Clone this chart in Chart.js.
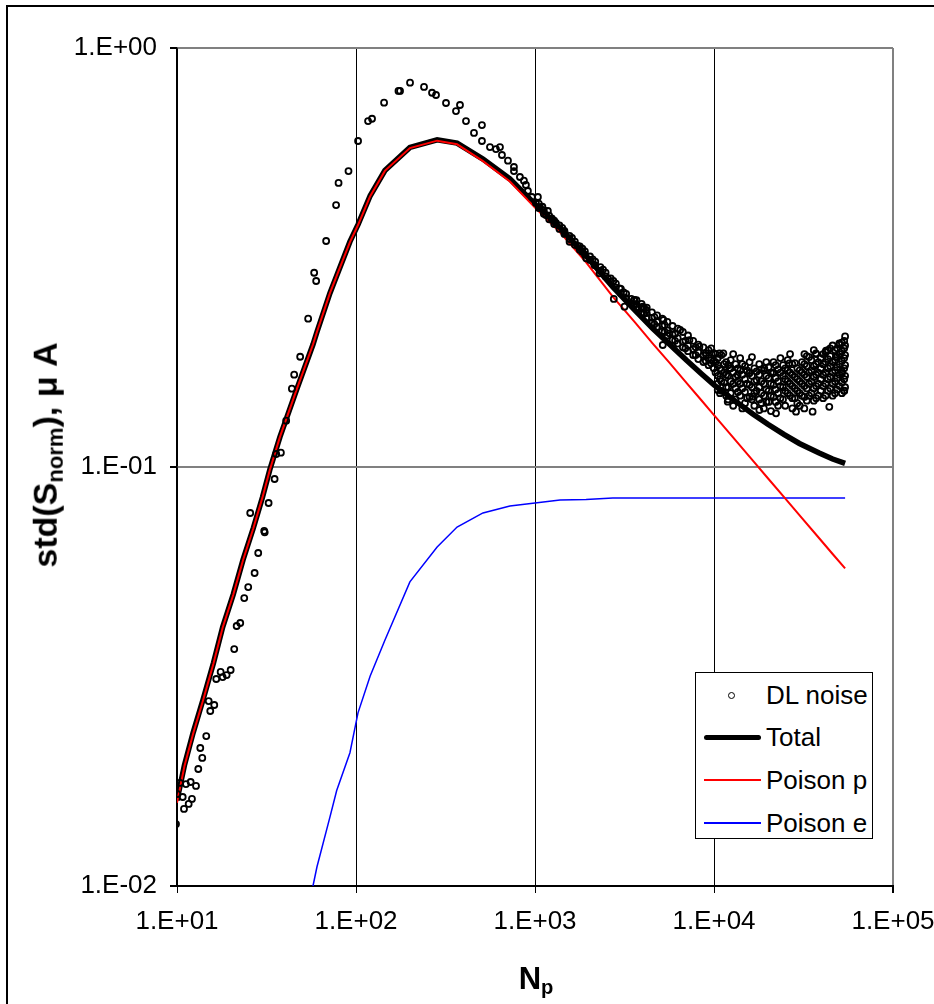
<!DOCTYPE html>
<html>
<head>
<meta charset="utf-8">
<script src="https://cdn.jsdelivr.net/npm/chart.js@4.4.0/dist/chart.umd.min.js"></script>
<style>
  html, body { margin: 0; padding: 0; background: #fff; }
  body { width: 934px; height: 1004px; position: relative; overflow: hidden; font-family: "Liberation Sans", Arial, sans-serif; color: #000; }
  #frame { position: absolute; left: 6px; top: 5px; width: 1000px; height: 1100px; border: 2px solid #000; }
  #chart { position: absolute; left: 0; top: 0; }
  .ytitle { position: absolute; left: 47px; top: 455px; transform: translate(-50%, -50%) rotate(-90deg); font-weight: bold; font-size: 34px; white-space: nowrap; }
  .xtitle { position: absolute; left: 536px; top: 980px; transform: translate(-50%, -50%); font-weight: bold; font-size: 31px; white-space: nowrap; }
  sub { font-size: 65%; vertical-align: -0.25em; }
  #legend { position: absolute; left: 695px; top: 672px; width: 178px; height: 167px; border: 1px solid #000; background: #fff; box-sizing: border-box; }
  .item { position: absolute; left: 0; height: 30px; width: 177px; }
  .item span { position: absolute; left: 70px; top: 50%; transform: translateY(-50%); font-size: 26px; white-space: nowrap; }
  .mk { position: absolute; top: 50%; }
</style>
</head>
<body>
<div id="frame"></div>
<canvas id="chart" width="934" height="1004"></canvas>
<div class="ytitle">std(S<sub>norm</sub>), &mu; A</div>
<div class="xtitle">N<sub>p</sub></div>
<div id="legend">
  <div class="item" style="top:7px"><div class="mk" style="left:32px;width:5px;height:5px;margin-top:-3px;border:1.6px solid #000;border-radius:50%"></div><span>DL noise</span></div>
  <div class="item" style="top:49px"><div class="mk" style="left:8px;width:57px;height:5px;margin-top:-2px;background:#000;border-radius:3px"></div><span>Total</span></div>
  <div class="item" style="top:92px"><div class="mk" style="left:8px;width:57px;height:2px;margin-top:-1px;background:#f00"></div><span>Poison p</span></div>
  <div class="item" style="top:135px"><div class="mk" style="left:8px;width:57px;height:2px;margin-top:-1px;background:#00f"></div><span>Poison e</span></div>
</div>
<script>
// model curves
const modelNp = [10, 11, 12.3, 14, 16, 18, 20.6, 23.4, 26.7, 30, 33, 37.6, 46.6, 57.5, 60.5, 71.5, 78, 92.5, 102.6, 120, 145, 200, 284, 367, 512, 724,
  1000, 1380, 1930, 2720, 3600, 4550, 5600, 7000, 8500, 10000, 12500, 16400, 20000, 24700, 30000, 38700, 46000, 54000];
const totalStd = [0.0160, 0.0194, 0.0232, 0.0279, 0.0341, 0.0415, 0.0496, 0.0601, 0.0715, 0.0846, 0.0985, 0.118, 0.153, 0.196, 0.210, 0.260, 0.286, 0.345, 0.379, 0.444, 0.510, 0.579, 0.604, 0.593, 0.543, 0.487,
  0.424, 0.372, 0.319, 0.269, 0.237, 0.214, 0.197, 0.180, 0.167, 0.157, 0.146, 0.134, 0.1265, 0.1195, 0.1138, 0.108, 0.1045, 0.102];
const poisonP = [0.0158, 0.0193, 0.0231, 0.0278, 0.0340, 0.0414, 0.0495, 0.0600, 0.0714, 0.0845, 0.0984, 0.118, 0.153, 0.196, 0.210, 0.260, 0.286, 0.344, 0.378, 0.443, 0.509, 0.577, 0.601, 0.589, 0.537, 0.480,
  0.416, 0.363, 0.308, 0.255, 0.222, 0.197, 0.178, 0.159, 0.1443, 0.133, 0.119, 0.1039, 0.094, 0.0846, 0.0768, 0.0676, 0.062, 0.0573];
const poisonE = [null, null, null, null, null, null, null, null, null, null, null, null, 0.0066, 0.0100, 0.0111, 0.0146, 0.0169, 0.0208, 0.0259, 0.0317, 0.0386, 0.0532, 0.0644, 0.0719, 0.0777, 0.0807,
  0.0820, 0.0834, 0.0836, 0.0843, 0.0843, 0.0843, 0.0843, 0.0843, 0.0843, 0.0843, 0.0843, 0.0843, 0.0843, 0.0843, 0.0843, 0.0843, 0.0843, 0.0843];

// measured DL noise
const dlNp = [9.87, 10.94, 11.62, 12.12, 10.76, 10.04, 10.39, 11.22, 11.92, 12.77, 13.15, 13.84, 13.49, 14.57, 15.34, 16.15, 15.03, 16.57, 17.53, 17.99, 18.94, 19.94, 20.88, 21.54, 22.56, 23.75, 25.0, 27.14, 28.43, 30.7, 30.9, 25.65, 32.49, 35.09, 35.82, 38.05, 40.73, 43.83, 45.15, 48.76, 54.04, 58.38, 59.9, 68.1, 77.4, 79.9, 90.8, 102.7, 116.8, 122.9, 143.5, 172.7, 176.2, 200.4, 239.9, 265.9, 279.9, 318.3, 361.9, 381, 411.6, 456.2, 505.4, 505.4, 560.3, 605.2, 637.2, 653.7, 706.3, 762.7, 762.7, 823.6, 867.1, 889.6, 912.8, 960.9, 1038, 1012, 1065, 1180, 1151, 1243, 1309,
  1463, 1560, 1736, 1837, 1933, 2150, 2294, 2552, 2756, 2966, 3162, 3596, 4000, 4179, 5220, 5173, 5638, 6468, 7291, 8289, 9035, 9634, 10720, 11280, 10490, 11930, 12190, 13560, 15760, 16440, 17920, 19110, 21270, 22210, 26350, 28720, 31950, 35550, 37140, 42240, 44060, 50100, 53430, 51860, 48020,
  1050, 1050, 1120, 1120, 1200, 1200, 1280, 1280, 1370, 1370, 1460, 1460, 1560, 1560, 1670, 1670, 1780, 1780, 1900, 1900,
  2030, 2030, 2170, 2170, 2320, 2320, 2480, 2480, 2650, 2650, 2830, 2830, 3020, 3020, 3230, 3230, 3450, 3450,
  3690, 3690, 3690, 3940, 3940, 3940, 4210, 4210, 4210, 4500, 4500, 4500, 4810, 4810, 4810, 5140, 5140, 5140,
  5490, 5490, 5490, 5870, 5870, 5870, 6270, 6270, 6270, 6700, 6700, 6700, 7160, 7160, 7160, 7650, 7650, 7650,
  8170, 8170, 8170, 8730, 8730, 8730, 9330, 9330, 9330, 9970, 9970, 9970,
  10500, 10500, 10500, 10500, 11000, 11000, 11000, 11000, 11700, 11700, 11700, 11700, 12400, 12400, 12400, 12400,
  13200, 13200, 13200, 13200, 14000, 14000, 14000, 14000, 14900, 14900, 14900, 14900, 15800, 15800, 15800, 15800,
  16800, 16800, 16800, 16800, 17900, 17900, 17900, 17900, 19000, 19000, 19000, 19000, 20200, 20200, 20200, 20200,
  21500, 21500, 21500, 21500, 22800, 22800, 22800, 22800, 24300, 24300, 24300, 24300, 25800, 25800, 25800, 25800,
  27400, 27400, 27400, 27400, 27400, 29200, 29200, 29200, 29200, 31000, 31000, 31000, 31000,
  33000, 33000, 33000, 33000, 33000, 35000, 35000, 35000, 35000, 37200, 37200, 37200, 37200, 37200,
  39500, 39500, 39500, 39500, 42000, 42000, 42000, 42000, 42000, 44600, 44600, 44600, 44600, 44600,
  47400, 47400, 47400, 47400, 47400, 50300, 50300, 50300, 50300, 50300, 53400, 53400, 53400, 53400, 53400, 53400];
const dlStd = [0.01406, 0.01527, 0.0157, 0.01614, 0.01631, 0.01658, 0.01762, 0.01751, 0.01771, 0.01733, 0.01902, 0.02021, 0.02135, 0.0228, 0.02616, 0.02704, 0.02763, 0.03119, 0.03242, 0.03153, 0.03188, 0.03277, 0.03677, 0.04174, 0.04243, 0.04867, 0.05169, 0.05585, 0.06233, 0.07036, 0.06985, 0.07767, 0.08204, 0.09363, 0.1074, 0.1082, 0.129, 0.1538, 0.1661, 0.1833, 0.2259, 0.2908, 0.2779, 0.3462, 0.4219, 0.4763, 0.5086, 0.5998, 0.6694, 0.6779, 0.7404, 0.7898, 0.7898, 0.8264, 0.8072, 0.782, 0.7723, 0.7391, 0.7072, 0.7311, 0.6694, 0.6269, 0.6548, 0.5998, 0.58, 0.5739, 0.58, 0.5555, 0.5383, 0.52, 0.5086, 0.4922, 0.4823, 0.471, 0.4557, 0.441, 0.441, 0.4266, 0.4173, 0.4083, 0.3994, 0.3907, 0.3822,
  0.3623, 0.3448, 0.3369, 0.3265, 0.3148, 0.3034, 0.2899, 0.2821, 0.2518, 0.2669, 0.2413, 0.2504, 0.2413, 0.2369, 0.2243, 0.1955, 0.2085, 0.2123, 0.2009, 0.1937, 0.185, 0.1768, 0.1868, 0.1868, 0.1527, 0.1432, 0.172, 0.1658, 0.1674, 0.1472, 0.1368, 0.172, 0.1674, 0.1343, 0.1768, 0.1355, 0.138, 0.1355, 0.1868, 0.1895, 0.1392, 0.1973, 0.1521, 0.1674, 0.1833,
  0.425, 0.415, 0.41, 0.402, 0.398, 0.39, 0.387, 0.38, 0.377, 0.37, 0.366, 0.36, 0.356, 0.35, 0.345, 0.339, 0.336, 0.33, 0.327, 0.321,
  0.318, 0.312, 0.309, 0.303, 0.3, 0.294, 0.291, 0.285, 0.282, 0.277, 0.274, 0.268, 0.266, 0.26, 0.259, 0.253, 0.252, 0.246,
  0.245, 0.24, 0.25, 0.239, 0.233, 0.245, 0.233, 0.227, 0.24, 0.227, 0.221, 0.234, 0.222, 0.216, 0.23, 0.217, 0.211, 0.226,
  0.212, 0.206, 0.222, 0.207, 0.201, 0.217, 0.203, 0.197, 0.214, 0.199, 0.193, 0.21, 0.195, 0.189, 0.206, 0.191, 0.185, 0.2,
  0.188, 0.181, 0.196, 0.185, 0.178, 0.193, 0.182, 0.175, 0.19, 0.179, 0.172, 0.187,
  0.175, 0.165, 0.158, 0.182, 0.17, 0.16, 0.152, 0.185, 0.178, 0.166, 0.155, 0.148, 0.172, 0.16, 0.15, 0.18,
  0.176, 0.164, 0.154, 0.145, 0.17, 0.158, 0.148, 0.182, 0.174, 0.162, 0.151, 0.142, 0.168, 0.157, 0.147, 0.178,
  0.172, 0.16, 0.15, 0.14, 0.166, 0.155, 0.145, 0.176, 0.17, 0.158, 0.148, 0.138, 0.173, 0.163, 0.152, 0.143,
  0.168, 0.157, 0.147, 0.178, 0.171, 0.16, 0.15, 0.14, 0.165, 0.155, 0.145, 0.175, 0.17, 0.16, 0.15, 0.18,
  0.166, 0.156, 0.146, 0.176, 0.138, 0.172, 0.162, 0.152, 0.142, 0.168, 0.158, 0.148, 0.178,
  0.174, 0.164, 0.154, 0.144, 0.184, 0.17, 0.16, 0.15, 0.18, 0.176, 0.166, 0.156, 0.146, 0.186,
  0.172, 0.162, 0.152, 0.182, 0.178, 0.168, 0.158, 0.148, 0.188, 0.174, 0.164, 0.154, 0.184, 0.192,
  0.18, 0.17, 0.16, 0.15, 0.19, 0.176, 0.166, 0.156, 0.186, 0.196, 0.182, 0.172, 0.162, 0.152, 0.192, 0.2];

// more DL noise in the dense tail
const dlNpTail = [1100, 1240, 1420, 1610, 1840, 2100, 2400, 2740, 3130, 3570, 3570, 4070, 4070, 4650, 4650, 5300, 5300, 6060, 6060, 6920, 6920, 7900, 7900, 9000, 9000, 9650, 9650,
  10200, 10200, 10200, 10800, 10800, 10800, 11400, 11400, 11400, 12000, 12000, 12000, 12000, 12800, 12800, 12800, 12800,
  13600, 13600, 13600, 14400, 14400, 14400, 14400, 15300, 15300, 15300, 16300, 16300, 16300, 16300, 17300, 17300, 17300,
  18400, 18400, 18400, 18400, 19600, 19600, 19600, 19600, 20800, 20800, 20800, 20800, 22100, 22100, 22100, 22100,
  23500, 23500, 23500, 23500, 25000, 25000, 25000, 25000, 26600, 26600, 26600, 26600, 28300, 28300, 28300, 28300,
  30100, 30100, 30100, 30100, 32000, 32000, 32000, 32000, 32000, 34000, 34000, 34000, 34000, 36100, 36100, 36100, 36100, 36100,
  38300, 38300, 38300, 38300, 40700, 40700, 40700, 40700, 40700, 43300, 43300, 43300, 43300, 43300, 46000, 46000, 46000, 46000, 46000,
  48800, 48800, 48800, 48800, 48800, 51800, 51800, 51800, 51800, 51800, 51800, 54000, 54000, 54000, 54000, 54000, 54000];
const dlStdTail = [0.418, 0.392, 0.372, 0.352, 0.332, 0.313, 0.296, 0.278, 0.261, 0.25, 0.243, 0.24, 0.232, 0.228, 0.219, 0.218, 0.21, 0.208, 0.2, 0.2, 0.192, 0.193, 0.185, 0.187, 0.179, 0.18, 0.192,
  0.168, 0.178, 0.186, 0.162, 0.172, 0.15, 0.168, 0.176, 0.159, 0.165, 0.175, 0.155, 0.145, 0.168, 0.158, 0.186, 0.14,
  0.172, 0.16, 0.151, 0.166, 0.154, 0.176, 0.138, 0.17, 0.158, 0.146, 0.165, 0.155, 0.183, 0.145, 0.169, 0.152, 0.161,
  0.171, 0.16, 0.142, 0.15, 0.165, 0.153, 0.178, 0.143, 0.168, 0.158, 0.148, 0.136, 0.163, 0.153, 0.175, 0.143,
  0.168, 0.156, 0.146, 0.182, 0.172, 0.162, 0.152, 0.14, 0.168, 0.158, 0.148, 0.186, 0.164, 0.154, 0.146, 0.177,
  0.17, 0.16, 0.15, 0.14, 0.176, 0.166, 0.156, 0.147, 0.186, 0.168, 0.158, 0.148, 0.183, 0.174, 0.164, 0.154, 0.144, 0.19,
  0.178, 0.168, 0.158, 0.148, 0.176, 0.166, 0.156, 0.186, 0.146, 0.172, 0.162, 0.152, 0.19, 0.181, 0.178, 0.168, 0.158, 0.148, 0.195,
  0.183, 0.173, 0.163, 0.153, 0.192, 0.179, 0.169, 0.159, 0.189, 0.198, 0.15, 0.185, 0.175, 0.165, 0.155, 0.195, 0.205];

const xTicks = [10, 100, 1000, 10000, 100000];
const xTickLabels = ['1.E+01', '1.E+02', '1.E+03', '1.E+04', '1.E+05'];
const yTicks = [0.01, 0.1, 1];
const yTickLabels = ['1.E-02', '1.E-01', '1.E+00'];

const pts = (xs, ys) => xs.map((x, i) => ({ x: x, y: ys[i] }));

Chart.defaults.font.family = '"Liberation Sans", Arial, sans-serif';
Chart.defaults.color = '#000';

new Chart(document.getElementById('chart'), {
  type: 'scatter',
  data: {
    datasets: [{
      label: 'DL noise',
      data: pts(dlNp, dlStd).concat(pts(dlNpTail, dlStdTail)),
      pointRadius: 3,
      pointBorderWidth: 1.8,
      borderColor: '#000',
      backgroundColor: 'rgba(0,0,0,0)',
      order: 0
    }, {
      label: 'Total',
      data: pts(modelNp, totalStd),
      showLine: true,
      borderColor: '#000',
      borderWidth: 5.5,
      pointRadius: 0,
      order: 2
    }, {
      label: 'Poison p',
      data: pts(modelNp, poisonP),
      showLine: true,
      borderColor: '#f00',
      borderWidth: 2,
      pointRadius: 0,
      order: 1
    }, {
      label: 'Poison e',
      data: pts(modelNp, poisonE),
      showLine: true,
      borderColor: '#00f',
      borderWidth: 1.5,
      pointRadius: 0,
      order: 3
    }]
  },
  options: {
    responsive: false,
    animation: false,
    devicePixelRatio: 1,
    layout: { padding: { left: 0, top: 48, right: 41, bottom: 0 } },
    plugins: { legend: { display: false }, tooltip: { enabled: false } },
    scales: {
      x: {
        type: 'logarithmic',
        min: 10,
        max: 100000,
        afterFit: s => { s.height = 118; s.paddingLeft = 0; s.paddingRight = 0; },
        afterBuildTicks: s => { s.ticks = xTicks.map(v => ({ value: v })); },
        ticks: {
          font: { size: 26 },
          padding: 13,
          maxRotation: 0,
          autoSkip: false,
          callback: (v, i) => xTickLabels[i]
        },
        grid: {
          color: c => (c.tick && c.tick.value === 100000 ? '#808080' : '#000'),
          lineWidth: c => (c.tick && c.tick.value === 100000 ? 2 : 1),
          tickColor: '#000',
          tickLength: 7
        },
        border: { color: '#000', width: 2 }
      },
      y: {
        type: 'logarithmic',
        min: 0.01,
        max: 1,
        afterFit: s => { s.width = 177; },
        afterBuildTicks: s => { s.ticks = yTicks.map(v => ({ value: v })); },
        ticks: {
          font: { size: 26 },
          padding: 13,
          autoSkip: false,
          callback: (v, i) => yTickLabels[i]
        },
        grid: {
          color: '#808080',
          lineWidth: 2,
          tickColor: '#000',
          tickLength: 7
        },
        border: { color: '#000', width: 1.5 }
      }
    }
  }
});
</script>
</body>
</html>
